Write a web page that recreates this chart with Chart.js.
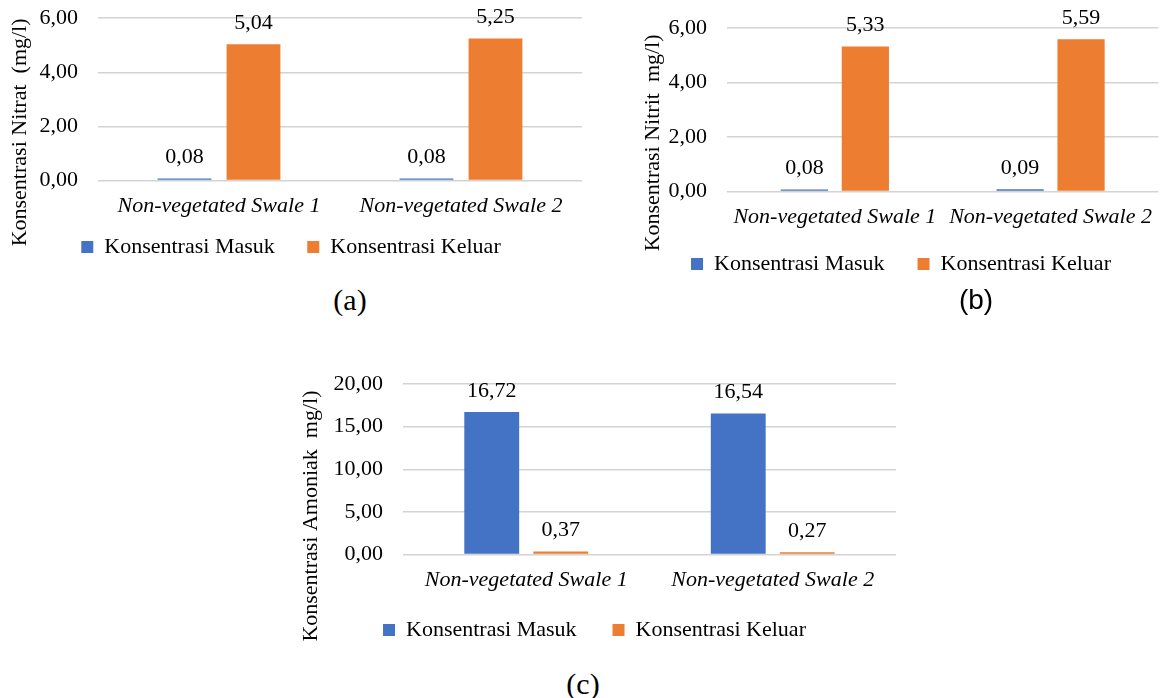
<!DOCTYPE html>
<html lang="id">
<head>
  <meta charset="UTF-8">
  <title>Konsentrasi Nitrat, Nitrit, Amoniak</title>
  <script src="https://cdn.jsdelivr.net/npm/chart.js"></script>
  <style>
    body { margin: 0; background: #fff; width: 1164px; height: 698px; position: relative; overflow: hidden; }
    canvas { position: absolute; }
    .cap { position: absolute; font-family: 'Liberation Serif', serif; font-size: 30px; color: #000; transform: translate(-50%, -50%); line-height: 1; }
  </style>
</head>
<body>
  <canvas id="chartA" width="584" height="283" style="left:0px; top:-15px;"></canvas>
  <canvas id="chartB" width="526" height="290" style="left:638px; top:-5px;"></canvas>
  <canvas id="chartC" width="603" height="311" style="left:293px; top:340px;"></canvas>

  <div class="cap" style="left:350px; top:300px;">(a)</div>
  <div class="cap" style="left:976px; top:300px; font-family:'Liberation Sans', sans-serif; font-size:28px;">(b)</div>
  <div class="cap" style="left:583px; top:684px;">(c)</div>

<script>
  const categories = ['Non-vegetated Swale 1', 'Non-vegetated Swale 2'];
  const seriesNames = ['Konsentrasi Masuk', 'Konsentrasi Keluar'];

  // (a) nitrat
  const nitratMasuk = [0.08, 0.08];
  const nitratKeluar = [5.04, 5.25];
  const nitratTicks = [0, 2, 4, 6];

  // (b) nitrit
  const nitritMasuk = [0.08, 0.09];
  const nitritKeluar = [5.33, 5.59];
  const nitritTicks = [0, 2, 4, 6];

  // (c) amoniak
  const amoniakMasuk = [16.72, 16.54];
  const amoniakKeluar = [0.37, 0.27];
  const amoniakTicks = [0, 5, 10, 15, 20];

  const biru = '#4472C4';
  const oranye = '#ED7D31';
  const serif = 'Liberation Serif';

  function koma(v) {
    return v.toFixed(2).replace('.', ',');
  }

  // angka di atas batang
  const labelBatang = {
    id: 'labelBatang',
    afterDatasetsDraw(chart) {
      const ctx = chart.ctx;
      ctx.save();
      ctx.font = '22px "' + serif + '"';
      ctx.fillStyle = '#000';
      ctx.textAlign = 'center';
      ctx.textBaseline = 'middle';
      chart.data.datasets.forEach((ds, i) => {
        chart.getDatasetMeta(i).data.forEach((bar, j) => {
          ctx.fillText(koma(ds.data[j]), bar.x, bar.y - 21);
        });
      });
      ctx.restore();
    }
  };

  function buatGrafik(id, masuk, keluar, ticks, cfg) {
    const ctx = document.getElementById(id).getContext('2d');
    return new Chart(ctx, {
      type: 'bar',
      data: {
        labels: categories,
        datasets: [
          { label: seriesNames[0], data: masuk, backgroundColor: biru, borderWidth: 0 },
          { label: seriesNames[1], data: keluar, backgroundColor: oranye, borderWidth: 0 }
        ]
      },
      options: {
        responsive: false,
        animation: false,
        categoryPercentage: cfg.cp,
        barPercentage: cfg.bp,
        layout: { padding: { top: cfg.top, right: cfg.right, left: 0, bottom: 0 } },
        plugins: {
          tooltip: { enabled: false },
          legend: {
            position: 'bottom',
            labels: {
              boxWidth: 12,
              boxHeight: 12,
              padding: cfg.legendPad,
              color: '#000',
              font: { family: serif, size: 22 },
              generateLabels(chart) {
                const items = Chart.defaults.plugins.legend.labels.generateLabels(chart);
                items[0].text = items[0].text + '\u00a0'.repeat(cfg.gap);
                return items;
              }
            }
          }
        },
        scales: {
          x: {
            grid: { display: false, drawTicks: false },
            border: { display: false },
            ticks: {
              color: '#000',
              padding: 12,
              font: { family: serif, size: 22, style: 'italic' }
            }
          },
          y: {
            min: ticks[0],
            max: ticks[ticks.length - 1],
            afterBuildTicks(scale) {
              scale.ticks = ticks.map(v => ({ value: v }));
            },
            afterFit(scale) {
              scale.width = cfg.yWidth;
            },
            grid: { color: '#d3d3d3', lineWidth: 1.6, drawTicks: false },
            border: { display: false },
            ticks: {
              color: '#000',
              padding: 20,
              font: { family: serif, size: 22 },
              callback: v => koma(v)
            },
            title: {
              display: true,
              text: cfg.title + '\u00a0'.repeat(cfg.shift),
              color: '#000',
              font: { family: serif, size: 22 },
              padding: { top: cfg.titlePad, bottom: 0 }
            }
          }
        }
      },
      plugins: [labelBatang]
    });
  }

  buatGrafik('chartA', nitratMasuk, nitratKeluar, nitratTicks, {
    title: 'Konsentrasi Nitrat  (mg/l)', shift: 12, titlePad: 7, yWidth: 98,
    top: 0, right: 2, cp: 0.57, bp: 0.78, legendPad: 5, gap: 5
  });

  buatGrafik('chartB', nitritMasuk, nitritKeluar, nitritTicks, {
    title: 'Konsentrasi Nitrit  mg/l)', shift: 12, titlePad: 2, yWidth: 89,
    top: 0, right: 0, cp: 0.565, bp: 0.775, legendPad: 11, gap: 4
  });

  buatGrafik('chartC', amoniakMasuk, amoniakKeluar, amoniakTicks, {
    title: 'Konsentrasi Amoniak  mg/l)', shift: 17, titlePad: 5, yWidth: 110,
    top: 44, right: 0, cp: 0.56, bp: 0.795, legendPad: 14, gap: 4
  });
</script>
</body>
</html>
